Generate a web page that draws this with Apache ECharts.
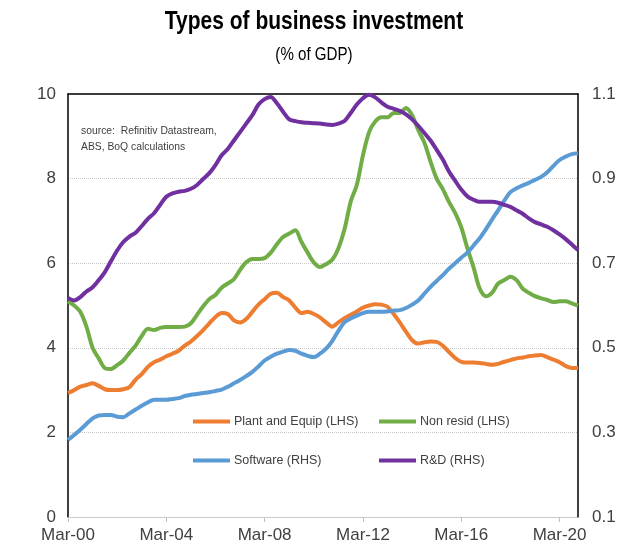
<!DOCTYPE html>
<html><head><meta charset="utf-8">
<script src="https://cdn.jsdelivr.net/npm/echarts@6/dist/echarts.min.js"></script>
<style>html,body{margin:0;padding:0;background:#fff}#c{width:625px;height:559px}</style>
</head><body><div id="c"></div>
<script>
var years = ['00','01','02','03','04','05','06','07','08','09','10','11','12','13','14','15','16','17','18','19','20'];
var months = ['Mar','Jun','Sep','Dec'];
var categories = [];
years.forEach(function(y){ months.forEach(function(m){ categories.push(m + '-' + y); }); });

var plantEquip = [2.93,3.0,3.08,3.12,3.16,3.1,3.02,3.0,3.0,3.02,3.07,3.25,3.38,3.55,3.66,3.72,3.8,3.86,3.93,4.05,4.15,4.28,4.42,4.58,4.73,4.82,4.8,4.65,4.6,4.68,4.85,5.02,5.15,5.28,5.3,5.2,5.12,4.95,4.82,4.85,4.8,4.72,4.6,4.5,4.6,4.7,4.78,4.86,4.95,5.0,5.03,5.02,4.97,4.8,4.6,4.38,4.18,4.1,4.13,4.15,4.14,4.05,3.9,3.76,3.67,3.65,3.65,3.64,3.62,3.6,3.62,3.67,3.71,3.75,3.77,3.8,3.82,3.83,3.78,3.72,3.66,3.57,3.52,3.52];
var nonResid = [5.1,5.0,4.85,4.5,4.0,3.75,3.52,3.5,3.59,3.7,3.88,4.05,4.28,4.45,4.42,4.47,4.49,4.49,4.49,4.5,4.58,4.78,4.98,5.15,5.25,5.42,5.52,5.62,5.84,6.02,6.1,6.1,6.12,6.25,6.45,6.62,6.7,6.78,6.5,6.25,6.02,5.91,5.98,6.08,6.35,6.8,7.45,7.85,8.55,9.1,9.35,9.45,9.45,9.55,9.55,9.67,9.5,9.15,8.85,8.4,8.0,7.75,7.45,7.19,6.85,6.35,5.9,5.4,5.22,5.3,5.52,5.6,5.68,5.6,5.4,5.3,5.22,5.17,5.13,5.08,5.1,5.1,5.05,5.0];
var software = [0.282,0.294,0.306,0.32,0.333,0.34,0.341,0.341,0.337,0.336,0.345,0.354,0.363,0.371,0.377,0.377,0.377,0.379,0.381,0.386,0.389,0.391,0.393,0.395,0.398,0.401,0.408,0.416,0.424,0.433,0.443,0.456,0.47,0.479,0.486,0.491,0.495,0.493,0.486,0.481,0.478,0.486,0.498,0.516,0.54,0.56,0.569,0.576,0.582,0.585,0.585,0.585,0.586,0.588,0.589,0.594,0.602,0.612,0.628,0.644,0.658,0.672,0.687,0.7,0.713,0.725,0.742,0.759,0.78,0.803,0.825,0.848,0.868,0.877,0.884,0.89,0.897,0.904,0.915,0.93,0.944,0.952,0.958,0.96];
var rnd = [0.618,0.612,0.62,0.633,0.643,0.66,0.679,0.705,0.73,0.75,0.763,0.772,0.788,0.805,0.818,0.838,0.857,0.865,0.869,0.871,0.876,0.885,0.899,0.913,0.932,0.955,0.97,0.99,1.01,1.03,1.05,1.075,1.088,1.093,1.078,1.058,1.04,1.036,1.033,1.032,1.031,1.03,1.028,1.027,1.03,1.036,1.055,1.075,1.09,1.098,1.092,1.08,1.07,1.065,1.06,1.052,1.04,1.025,1.008,0.99,0.968,0.945,0.917,0.895,0.874,0.858,0.85,0.845,0.845,0.845,0.843,0.838,0.833,0.825,0.817,0.806,0.797,0.792,0.786,0.778,0.768,0.757,0.744,0.731];

var seriesNames = ['Plant and Equip (LHS)','Non resid (LHS)','Software (RHS)','R&D (RHS)'];
var seriesColors = ['#ED7D31','#70AD47','#5B9BD5','#7030A0'];
var leftTicks = {min:0, max:10, interval:2};
var rightTicks = {min:0.1, max:1.1, interval:0.2};
var titleText = 'Types of business investment';
var subtitleText = '(% of GDP)';
var sourceText = 'source:  Refinitiv Datastream,\nABS, BoQ calculations';

var FONT = '"Liberation Sans Narrow","Arial Narrow","Liberation Sans",Arial,sans-serif';
var chart = echarts.init(document.getElementById('c'));

function mkLegend(name, left, top){
  return {data:[name], left:left, top:top, icon:'rect', itemWidth:37, itemHeight:4, itemGap:0,
    textStyle:{fontFamily:FONT, fontSize:12.5, color:'#404040', padding:[0,0,0,-1]}, padding:0};
}
var dataSets = [plantEquip, nonResid, software, rnd];
var series = dataSets.map(function(d, k){
  return {name:seriesNames[k], type:'line', data:d, yAxisIndex:k<2?0:1, symbol:'none', smooth:0.3,
    lineStyle:{width:4, color:seriesColors[k]}, itemStyle:{color:seriesColors[k]}, z:k===3?5:4};
});

chart.setOption({
  animation:false,
  legend:[mkLegend(seriesNames[0],193,415), mkLegend(seriesNames[1],379,415),
          mkLegend(seriesNames[2],193,454), mkLegend(seriesNames[3],379,454)],
  grid:{left:68, right:47, top:94, bottom:42},
  xAxis:[{type:'category', data:categories, boundaryGap:false,
    axisLine:{lineStyle:{color:'#bfbfbf', type:'dotted', width:1}},
    axisTick:{interval:15, length:5, lineStyle:{color:'#bfbfbf'}},
    axisLabel:{interval:15, fontFamily:FONT, fontSize:17, color:'#404040', margin:10},
    splitLine:{show:false}},
   {type:'category', data:categories, boundaryGap:false, position:'top',
    axisLine:{lineStyle:{color:'#000', width:1.5}}, axisTick:{show:false}, axisLabel:{show:false}}],
  yAxis:[{type:'value', min:leftTicks.min, max:leftTicks.max, interval:leftTicks.interval, position:'left',
    axisLine:{show:true, lineStyle:{color:'#000', width:1.5}}, axisTick:{show:false},
    axisLabel:{fontFamily:FONT, fontSize:17, color:'#404040', margin:12},
    splitLine:{lineStyle:{color:'#c8c8c8', type:'dotted'}}},
   {type:'value', min:rightTicks.min, max:rightTicks.max, interval:rightTicks.interval, position:'right',
    axisLine:{show:true, lineStyle:{color:'#000', width:1.5}}, axisTick:{show:false},
    axisLabel:{fontFamily:FONT, fontSize:17, color:'#404040', margin:14, formatter:function(v){return v.toFixed(1);}},
    splitLine:{show:false}}],
  graphic:[
    {type:'text', x:314, y:10, scaleX:0.84, style:{text:titleText, x:0, y:0, textAlign:'center', textVerticalAlign:'top',
      fontFamily:FONT, fontWeight:'bold', fontSize:25, fill:'#000'}},
    {type:'text', x:314, y:46, scaleX:0.84, style:{text:subtitleText, x:0, y:0, textAlign:'center', textVerticalAlign:'top',
      fontFamily:FONT, fontSize:18, fill:'#000'}},
    {type:'text', x:81, y:123, scaleX:0.9, style:{text:sourceText, x:0, y:0, textVerticalAlign:'top',
      fontFamily:FONT, fontSize:11.5, lineHeight:16, fill:'#404040'}}
  ],
  series:series
});
</script></body></html>
